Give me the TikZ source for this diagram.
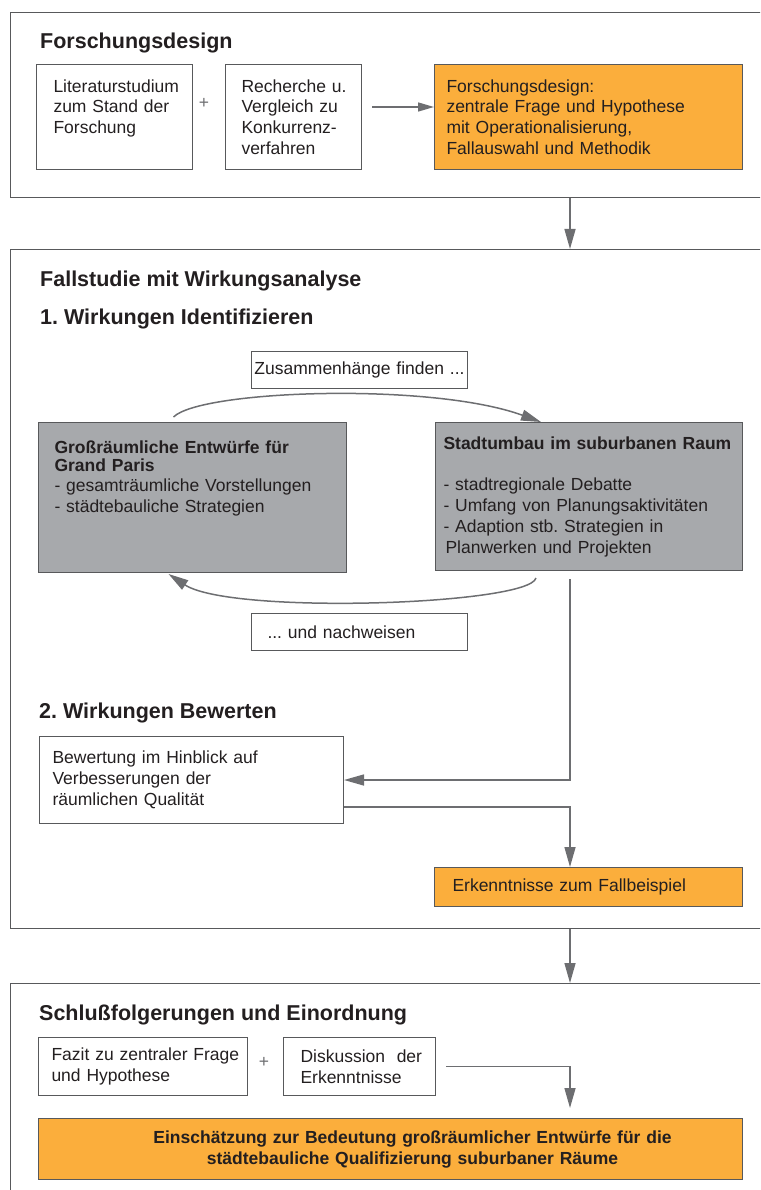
\documentclass[tikz,border=0pt]{standalone}
\usepackage{fontspec}
\setmainfont{Liberation Sans}
\usetikzlibrary{arrows.meta,calc}

\definecolor{orangefill}{HTML}{FBAE3C}
\definecolor{greyfill}{HTML}{A7A9AC}
\definecolor{linegrey}{HTML}{58595B}
\definecolor{arrowgrey}{HTML}{6D6E71}
\definecolor{textblack}{HTML}{231F20}

\tikzset{
    frame/.style={draw=linegrey, line width=1.2pt, anchor=north west, minimum width=800pt, inner sep=0pt},
    head/.style={anchor=base west, inner sep=0pt, text=textblack, font=\fontsize{21.5}{25}\selectfont\bfseries},
    box/.style={draw=linegrey, line width=1pt, anchor=north west, align=left, inner sep=0pt, text=textblack, font=\fontsize{17.5}{20.8}\selectfont},
    pad/.style={execute at begin node={\leftskip=#1}},
    plus/.style={text=arrowgrey, inner sep=0pt, font=\fontsize{17.5}{20.8}\selectfont},
    arr/.style={draw=arrowgrey, line width=1.5pt, -{Triangle[length=20pt,width=11pt]}}
}

\begin{document}
\frenchspacing
\begin{tikzpicture}[x=1pt, y=-1pt]
            \useasboundingbox (0,0) rectangle (760,1190);
            \clip (0,0) rectangle (760,1190);
            \coordinate (axis) at (570,0);

            % frames
            \node[frame, minimum height=185pt] (f1) at (10,12) {};
            \node[frame, minimum height=679pt] (f2) at (10,249) {};
            \node[frame, minimum height=240pt] (f3) at (10,983) {};

            \node[head] (h1) at (40,49) {Forschungsdesign};
            \node[head] (h2) at (40,286) {Fallstudie mit Wirkungsanalyse};
            \node[head] (h3) at (40,324) {1. Wirkungen Identifizieren};
            \node[head] (h4) at (39,718) {2. Wirkungen Bewerten};
            \node[head] (h5) at (39,1020) {Schlußfolgerungen und Einordnung};

            % Forschungsdesign
            \node[box, text width=156pt, minimum height=105pt, pad=17pt] (lit) at (36,64)
                {Literaturstudium\\zum Stand der\\Forschung\\\mbox{}};
            \node[plus] (p1) at (204,103) {+};
            \node[box, text width=136pt, minimum height=105pt, pad=16pt] (rech) at (225,64)
                {Recherche u.\\Vergleich zu\\Konkurrenz-\\verfahren};
            \node[box, fill=orangefill, text width=308pt, minimum height=105pt, pad=12pt] (design) at (434,64)
                {Forschungsdesign:\\zentrale Frage und Hypothese\\mit Operationalisierung,\\Fallauswahl und Methodik};

            % Wirkungen identifizieren
            \node[box, text width=216pt, minimum height=37pt, align=center] (zus) at (251,351)
                {Zusammenhänge finden ...};
            \node[box, fill=greyfill, text width=308pt, minimum height=150pt, pad=16pt] (gross) at (38,422)
                {\textbf{Großräumliche Entwürfe für}\\[-3pt]\textbf{Grand Paris}\\- gesamträumliche Vorstellungen\\- städtebauliche Strategien\\\mbox{}\\\mbox{}};
            \node[box, fill=greyfill, text width=307pt, minimum height=148pt, pad=8pt] (stadt) at (435,422)
                {\textbf{Stadtumbau im suburbanen Raum}\\\mbox{}\\- stadtregionale Debatte\\- Umfang von Planungsaktivitäten\\- Adaption stb. Strategien in\\\hspace*{2pt}Planwerken und Projekten};
            \node[box, text width=216pt, minimum height=37pt, pad=16pt] (nach) at (251,613)
                {... und nachweisen};

            % Wirkungen bewerten
            \node[box, text width=304pt, minimum height=87pt, pad=13pt] (bew) at (39,736)
                {Bewertung im Hinblick auf\\Verbesserungen der\\räumlichen Qualität};
            \node[box, fill=orangefill, text width=308pt, minimum height=39pt, pad=18pt] (erk) at (434,867)
                {Erkenntnisse zum Fallbeispiel};

            % Schlussfolgerungen
            \node[box, text width=209pt, minimum height=58pt, pad=13pt] (fazit) at (38,1037)
                {Fazit zu zentraler Frage\\und Hypothese};
            \node[plus] (p2) at (264,1062) {+};
            \node[box, text width=152pt, minimum height=58pt, pad=17pt] (disk) at (283,1037)
                {Diskussion\ \ der\\Erkenntnisse};
            \node[box, fill=orangefill, text width=704pt, minimum height=61pt, align=center,
                execute at begin node={\leftskip=44pt plus 1fil\rightskip=0pt plus 1fil\parfillskip=0pt},
                font=\fontsize{17.5}{21}\selectfont\bfseries] (ein) at (38,1118)
                {Einschätzung zur Bedeutung großräumlicher Entwürfe für die\\städtebauliche Qualifizierung suburbaner Räume};

            % connectors
            \draw[arr, -{Triangle[length=16pt,width=9pt]}] ([xshift=10pt,yshift=10pt]rech.east) -- ([yshift=10pt]design.west);
            \draw[arr] (f1.south -| axis) -- (f2.north -| axis);
            \draw[arr] ([xshift=-19pt,yshift=5pt]gross.north) .. controls +(27,-27) and +(-110,-40) .. ([xshift=-48pt]stadt.north);
            \draw[arr] ([xshift=-53pt,yshift=-7pt]stadt.south) .. controls +(-7,27) and +(62,41) .. ([xshift=-24pt,yshift=-1pt]gross.south);
            \draw[arr] ($(stadt.south -| axis)+(0,8)$) |- (bew.east);
            \draw[arr] ([yshift=-27pt]bew.east) -| (erk.north -| axis);
            \draw[arr] (f2.south -| axis) -- (f3.north -| axis);
            \draw[arr] ([xshift=10pt]disk.east) -| ($(ein.north -| axis)+(0,-10)$);
\end{tikzpicture}
\end{document}
